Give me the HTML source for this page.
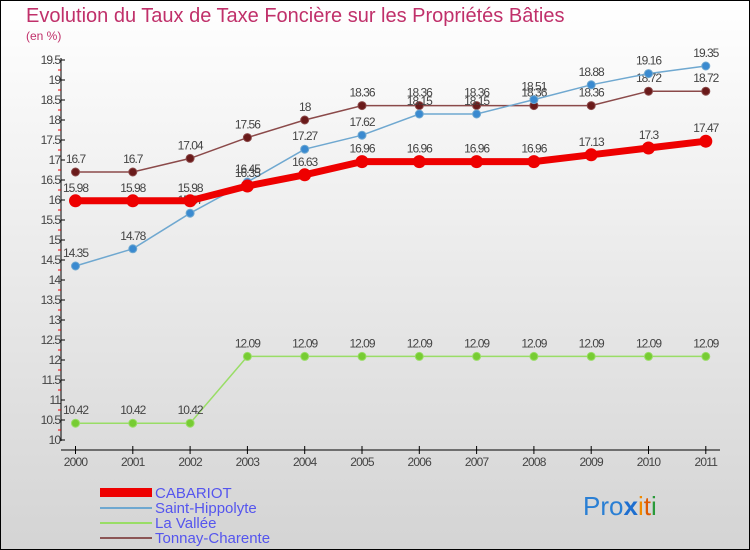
<!DOCTYPE html>
<html><head><meta charset="utf-8"><style>
body{margin:0;}
#c{width:750px;height:550px;position:relative;overflow:hidden;}
svg text{font-family:"Liberation Sans",sans-serif;}
</style></head><body>
<div id="c">
<svg id="s" width="750" height="550" xmlns="http://www.w3.org/2000/svg">
<defs><linearGradient id="bg" x1="0" y1="0" x2="0" y2="1"><stop offset="0" stop-color="#ffffff"/><stop offset="1" stop-color="#d4d4d4"/></linearGradient></defs>
<rect x="0.5" y="0.5" width="749" height="549" fill="url(#bg)" stroke="#000"/>
<text x="26" y="22" font-size="20" fill="#c0306a">Evolution du Taux de Taxe Foncière sur les Propriétés Bâties</text>
<text x="26" y="40" font-size="12" fill="#c0306a">(en %)</text>
<g id="axes"></g><g id="series"></g>
<g>
<rect x="100" y="488" width="52" height="9" fill="#ee0000"/>
<text x="155" y="498" font-size="15" fill="#5555ee">CABARIOT</text>
<line x1="100" y1="508" x2="152" y2="508" stroke="#6fa8d0" stroke-width="2"/>
<text x="155" y="513" font-size="15" fill="#5555ee">Saint-Hippolyte</text>
<line x1="100" y1="523" x2="152" y2="523" stroke="#99dd66" stroke-width="2"/>
<text x="155" y="528" font-size="15" fill="#5555ee">La Vallée</text>
<line x1="100" y1="538" x2="152" y2="538" stroke="#8b5555" stroke-width="2"/>
<text x="155" y="543" font-size="15" fill="#5555ee">Tonnay-Charente</text>
</g>
<text x="583" y="515" font-size="26" fill="#2a7fd4">Pro<tspan fill="#1e6fd0" font-weight="bold">x</tspan><tspan fill="#f08a00">i</tspan><tspan fill="#e05a00">t</tspan><tspan fill="#2a9a3a">i</tspan></text>
</svg></div>
<script>
const years=[2000,2001,2002,2003,2004,2005,2006,2007,2008,2009,2010,2011];
const yTicks=[10,10.5,11,11.5,12,12.5,13,13.5,14,14.5,15,15.5,16,16.5,17,17.5,18,18.5,19,19.5];
const cabariot=[15.98,15.98,15.98,16.35,16.63,16.96,16.96,16.96,16.96,17.13,17.3,17.47];
const saintHippolyte=[14.35,14.78,15.67,16.45,17.27,17.62,18.15,18.15,18.51,18.88,19.16,19.35];
const laVallee=[10.42,10.42,10.42,12.09,12.09,12.09,12.09,12.09,12.09,12.09,12.09,12.09];
const tonnay=[16.7,16.7,17.04,17.56,18,18.36,18.36,18.36,18.36,18.36,18.72,18.72];
const NS="http://www.w3.org/2000/svg";
const X=i=>75.5+i*57.3, Y=v=>440-(v-10)*40;
function mk(t,a,p){const e=document.createElementNS(NS,t);for(const k in a)e.setAttribute(k,a[k]);p.appendChild(e);return e;}
const ax=document.getElementById('axes');
let l=mk('line',{x1:61,y1:58,x2:61,y2:441,stroke:'#000'},ax);


l=mk('line',{x1:61,y1:450,x2:720,y2:450,stroke:'#000'},ax);


yTicks.forEach((v,i)=>{
 mk('line',{x1:61,y1:Y(v),x2:65,y2:Y(v),stroke:'#000'},ax);
 if(i<yTicks.length-1) mk('line',{x1:58,y1:Y(v+0.25),x2:61,y2:Y(v+0.25),stroke:'#e00'},ax);
 const t=mk('text',{x:60,y:Y(v)+4,'font-size':12,fill:'#444','text-anchor':'end','letter-spacing':'-1'},ax);t.textContent=v;
 
 
});
years.forEach((y,i)=>{
 mk('line',{x1:X(i),y1:446,x2:X(i),y2:454,stroke:'#000'},ax);
 const t=mk('text',{x:X(i),y:466,'font-size':12,fill:'#444','text-anchor':'middle','letter-spacing':'-0.8'},ax);t.textContent=y;
 
 
});
const sg=document.getElementById('series');
function draw(vals,color,w,r,dot,name){
 const g=mk('g',{},sg);
 
 
 mk('polyline',{points:vals.map((v,i)=>X(i)+','+Y(v)).join(' '),fill:'none',stroke:color,'stroke-width':w},g);
 vals.forEach((v,i)=>{
  const c=mk('circle',{cx:X(i),cy:Y(v),r:r,fill:dot,stroke:color,'stroke-width':1},g);
  
  
  const t=mk('text',{x:X(i),y:Y(v)-9,'font-size':12,fill:'#444','text-anchor':'middle','letter-spacing':'-1'},g);t.textContent=v;
  
  
 });
}
draw(tonnay,'#8b4a4a',1.5,4,'#6a1a1a','tonnay-charente');
draw(laVallee,'#99dd66',1.5,4,'#77cc33','la-vallee');
draw(saintHippolyte,'#6fa8d0',1.5,4,'#3a8ad0','saint-hippolyte');
draw(cabariot,'#ee0000',7,6,'#ee0000','cabariot');
</script>
</body></html>
